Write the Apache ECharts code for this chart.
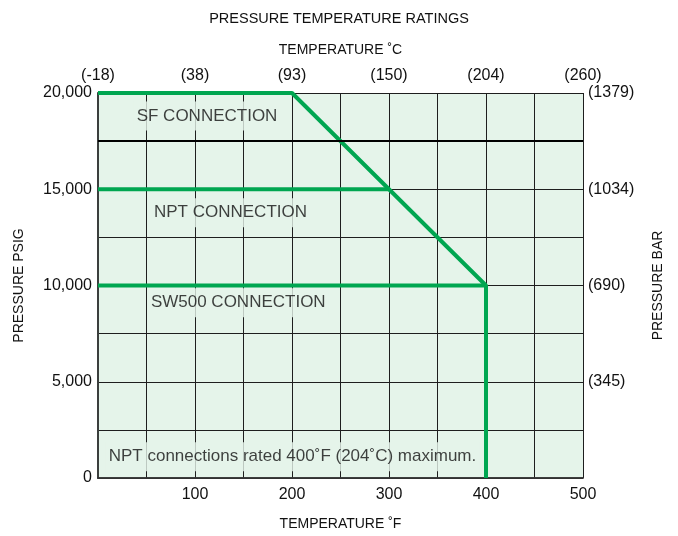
<!DOCTYPE html>
<html>
<head>
<meta charset="utf-8">
<script src="https://cdn.jsdelivr.net/npm/echarts@6/dist/echarts.min.js"></script>
<style>html,body{margin:0;padding:0;background:#fff}#c{width:678px;height:536px}</style>
</head>
<body>
<div id="c"></div>
<script>
// Data
var fTickValues = [100, 200, 300, 400, 500];
var fTickLabels = ['100', '200', '300', '400', '500'];
var cTickValues = [0, 100, 200, 300, 400, 500];
var cTickLabels = ['(-18)', '(38)', '(93)', '(150)', '(204)', '(260)'];
var psigTickValues = [0, 5000, 10000, 15000, 20000];
var psigTickLabels = ['0', '5,000', '10,000', '15,000', '20,000'];
var barTickValues = [5000, 10000, 15000, 20000];
var barTickLabels = ['(345)', '(690)', '(1034)', '(1379)'];

var sfLine = [[0, 20000], [200, 20000], [400, 10000], [400, 0]];
var nptLine = [[0, 15000], [300, 15000]];
var sw500Line = [[0, 10000], [400, 10000]];

var annotations = [
  [112.4, 18800, 'SF CONNECTION'],
  [136.6, 13780, 'NPT CONNECTION'],
  [144.6, 9110, 'SW500 CONNECTION'],
  [200.5, 1110, 'NPT connections rated 400˚F (204˚C) maximum.']
];
var emphasisLineY = 17500;

function lookup(vals, labels) {
  return function (v) { var i = vals.indexOf(v); return i >= 0 ? labels[i] : ''; };
}

var FONT = 'Liberation Sans, Arial, Helvetica, sans-serif';
var GREEN = '#00a651';
var BG = '#e5f4ea';
var GRIDC = '#1e1e1e';
var TXT = '#111';

var chart = echarts.init(document.getElementById('c'));
chart.setOption({
  animation: false,
  backgroundColor: '#fff',
  textStyle: { fontFamily: FONT },
  title: {
    text: 'PRESSURE TEMPERATURE RATINGS', left: 'center', top: 6,
    textStyle: { fontSize: 14.5, fontWeight: 'normal', color: TXT, fontFamily: FONT }
  },
  grid: { left: 98, right: 95, top: 93, bottom: 58, show: true, backgroundColor: BG, borderWidth: 0 },
  xAxis: [{
    type: 'value', position: 'bottom', min: 0, max: 500, interval: 50,
    name: 'TEMPERATURE ˚F', nameLocation: 'middle', nameGap: 39,
    nameTextStyle: { fontSize: 14, color: TXT, fontFamily: FONT },
    axisLine: { show: true, lineStyle: { color: '#333', width: 1.5 } },
    axisTick: { show: false },
    axisLabel: { formatter: lookup(fTickValues, fTickLabels), fontSize: 16, color: TXT, margin: 9, fontFamily: FONT },
    splitLine: { show: true, lineStyle: { color: GRIDC, width: 1 } }
  }, {
    type: 'value', position: 'top', min: 0, max: 500, interval: 50,
    name: 'TEMPERATURE ˚C', nameLocation: 'middle', nameGap: 36,
    nameTextStyle: { fontSize: 14, color: TXT, fontFamily: FONT },
    axisLine: { show: true, lineStyle: { color: '#333', width: 1.5 } },
    axisTick: { show: false },
    axisLabel: { formatter: lookup(cTickValues, cTickLabels), fontSize: 16, color: TXT, margin: 9, fontFamily: FONT },
    splitLine: { show: false }
  }],
  yAxis: [{
    type: 'value', position: 'left', min: 0, max: 20000, interval: 2500,
    name: 'PRESSURE PSIG', nameLocation: 'middle', nameGap: 72, nameRotate: 90,
    nameTextStyle: { fontSize: 14, color: TXT, fontFamily: FONT },
    axisLine: { show: true, lineStyle: { color: '#56635b', width: 2 } },
    axisTick: { show: false },
    axisLabel: { formatter: lookup(psigTickValues, psigTickLabels), fontSize: 16, color: TXT, margin: 6, fontFamily: FONT },
    splitLine: { show: true, lineStyle: { color: GRIDC, width: 1 } }
  }, {
    type: 'value', position: 'right', min: 0, max: 20000, interval: 2500,
    name: 'PRESSURE BAR', nameLocation: 'middle', nameGap: 68, nameRotate: 90,
    nameTextStyle: { fontSize: 14, color: TXT, fontFamily: FONT },
    axisLine: { show: true, lineStyle: { color: '#333', width: 1.5 } },
    axisTick: { show: false },
    axisLabel: { formatter: lookup(barTickValues, barTickLabels), fontSize: 16, color: TXT, margin: 5, fontFamily: FONT },
    splitLine: { show: false }
  }],
  series: [
    {
      type: 'line', data: [], z: 1, silent: true,
      markLine: {
        silent: true, symbol: 'none', label: { show: false },
        lineStyle: { color: '#000', width: 2, type: 'solid' },
        data: [{ yAxis: emphasisLineY }]
      }
    },
    { name: 'SF', type: 'line', data: sfLine, showSymbol: false, symbol: 'none', lineStyle: { color: GREEN, width: 4 }, z: 3 },
    { name: 'NPT', type: 'line', data: nptLine, showSymbol: false, symbol: 'none', lineStyle: { color: GREEN, width: 4 }, z: 3 },
    { name: 'SW500', type: 'line', data: sw500Line, showSymbol: false, symbol: 'none', lineStyle: { color: GREEN, width: 4 }, z: 3 },
    {
      type: 'scatter', data: annotations, symbolSize: 1, itemStyle: { color: 'rgba(0,0,0,0)' }, z: 2, silent: true,
      label: {
        show: true, position: 'inside', fontSize: 17, color: TXT, fontFamily: FONT,
        backgroundColor: BG, padding: [6, 3],
        formatter: function (p) { return p.data[2]; }
      }
    }
  ]
});
</script>
</body>
</html>
